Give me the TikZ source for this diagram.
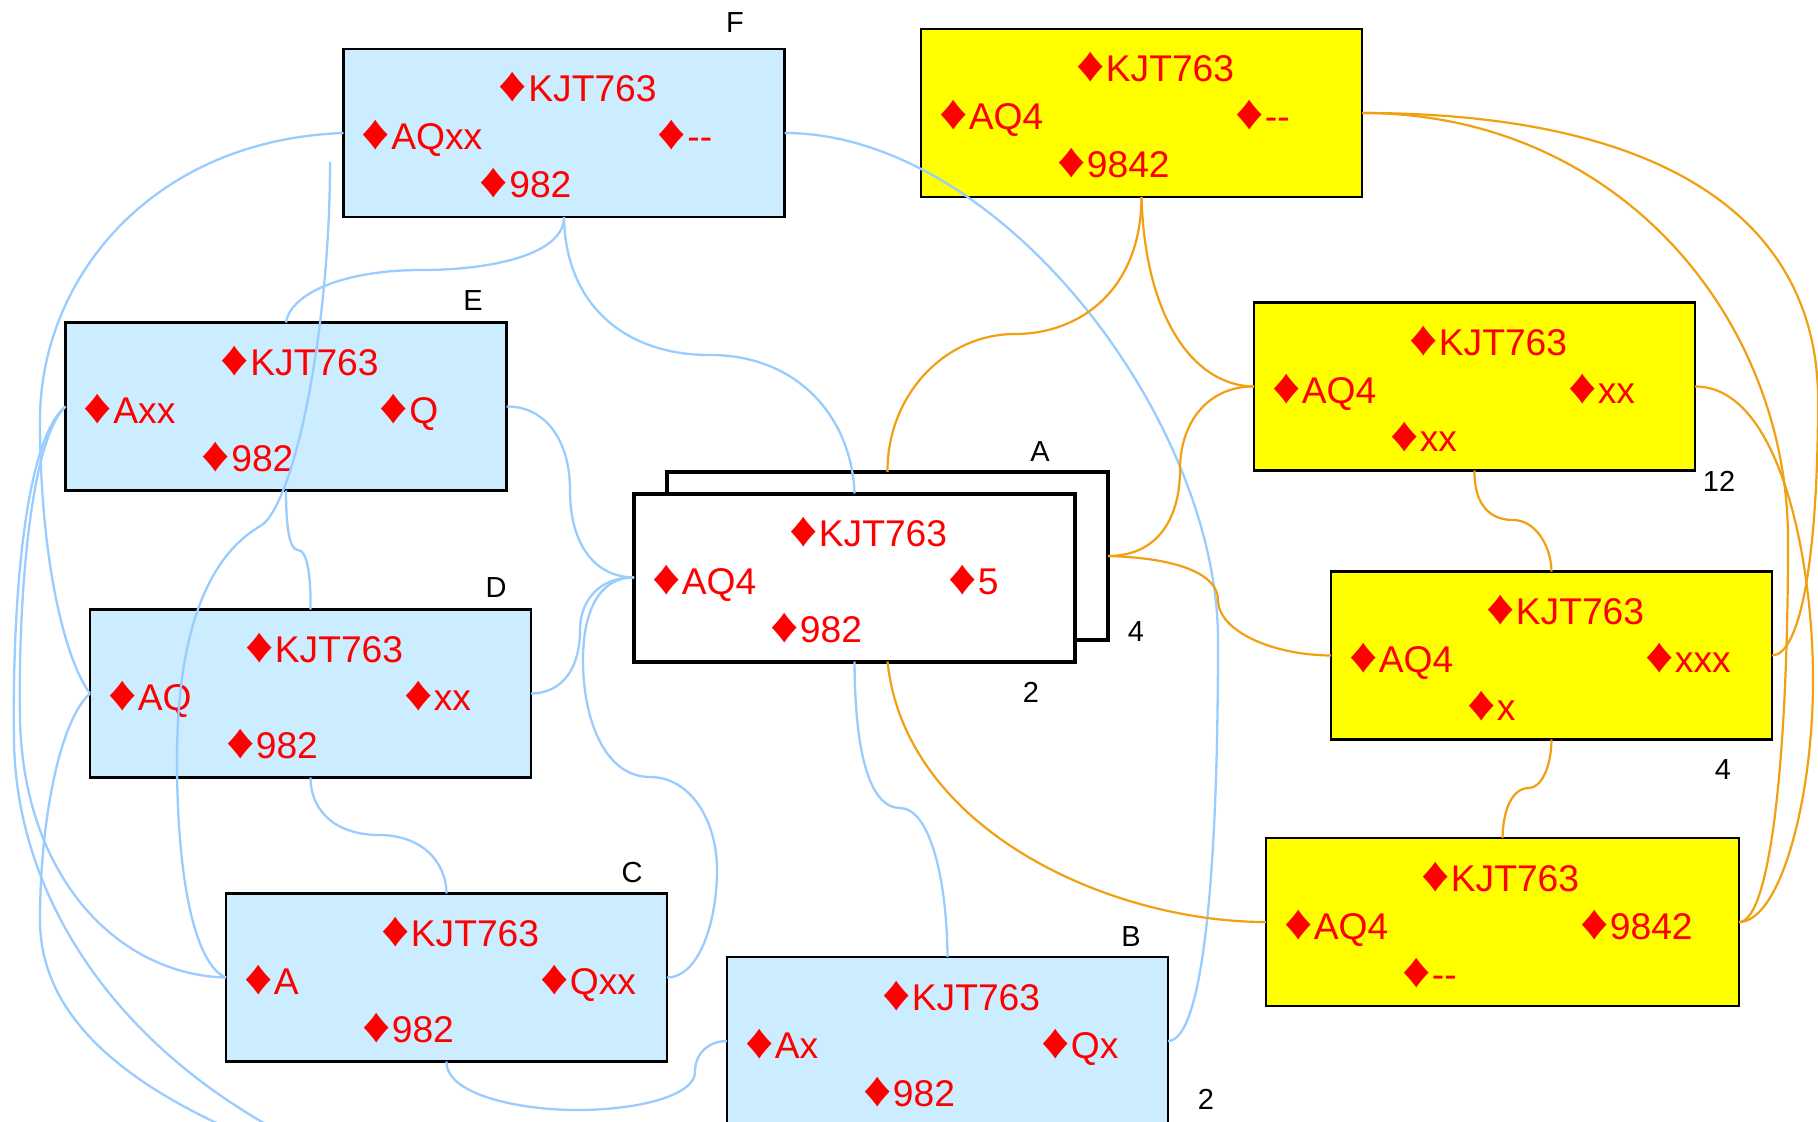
\documentclass[tikz,border=0pt]{standalone}
\usepackage{fontspec}
\setmainfont{Liberation Sans}
\usetikzlibrary{calc}
\definecolor{boxblue}{RGB}{204,236,255}
\definecolor{edgeblue}{RGB}{153,204,255}
\definecolor{edgeorange}{RGB}{240,160,16}
\definecolor{cardred}{RGB}{255,0,0}
\definecolor{handyellow}{RGB}{255,255,0}
\newcommand{\mydiam}{\scalebox{1.5}[1.32]{♦}\kern0.5pt}
\tikzset{
  handbox/.style={draw=black, line width=1.1pt, minimum width=220.5pt, minimum height=84pt, inner sep=0pt, outer sep=0pt},
  bluehand/.style={handbox, fill=boxblue},
  yellowhand/.style={handbox, fill=handyellow},
  mainhand/.style={handbox, fill=white, line width=2pt},
  cardtext/.style={anchor=base west, inner sep=0pt, text=cardred, font=\fontsize{18.6}{20}\selectfont},
  tag/.style={inner sep=0pt, font=\fontsize{14.5}{16}\selectfont, text=black},
  bluelink/.style={draw=edgeblue, line width=1.15pt},
  orangelink/.style={draw=edgeorange, line width=1.1pt},
}
\newcommand{\handtext}[5]{%
  \node[cardtext] (#1-n) at ($(#1.north west)+(155,53)$) {\mydiam#2};
  \node[cardtext] (#1-w) at ($(#1.north west)+(18,101)$) {\mydiam#3};
  \node[cardtext] (#1-e) at ($(#1.north west)+(314,101)$) {\mydiam#4};
  \node[cardtext] (#1-s) at ($(#1.north west)+(136,149)$) {\mydiam#5};
}
\begin{document}
\begin{tikzpicture}[x=0.5pt,y=-0.5pt]
\useasboundingbox (0,0) rectangle (1818,1122);
\clip (0,0) rectangle (1818,1122);
\fill[white] (0,0) rectangle (1818,1122);

% hands
\node[bluehand] (F) at (564,133) {};
\handtext{F}{KJT763}{AQxx}{-\kern0pt-}{982}
\node[yellowhand] (Y1) at (1141.5,113) {};
\handtext{Y1}{KJT763}{AQ4}{-\kern0pt-}{9842}
\node[bluehand] (E) at (286,406.5) {};
\handtext{E}{KJT763}{Axx}{Q}{982}
\node[yellowhand] (Y2) at (1474.5,386.5) {};
\handtext{Y2}{KJT763}{AQ4}{xx}{xx}
\node[bluehand] (D) at (310.5,693.5) {};
\handtext{D}{KJT763}{AQ}{xx}{982}
\node[yellowhand] (Y3) at (1551.5,655.5) {};
\handtext{Y3}{KJT763}{AQ4}{xxx}{x}
\node[bluehand] (C) at (446.5,977.5) {};
\handtext{C}{KJT763}{A}{Qxx}{982}
\node[bluehand] (B) at (947.5,1041) {};
\handtext{B}{KJT763}{Ax}{Qx}{982}
\node[yellowhand, minimum width=236.5pt] (Y4) at (1502.5,922) {};
\handtext{Y4}{KJT763}{AQ4}{9842}{-\kern0pt-}
\node[mainhand] (Ab) at (887.5,556) {};
\node[mainhand] (Af) at (854.5,577.5) {};
\handtext{Af}{KJT763}{AQ4}{5}{982}

% tags
\node[tag] (tF) at (735,23) {F};
\node[tag] (tE) at (473,301) {E};
\node[tag] (tA) at (1040,452) {A};
\node[tag] (tD) at (496,588) {D};
\node[tag] (tC) at (632,873) {C};
\node[tag] (tB) at (1131,937) {B};
\node[tag] (t12) at (1719,481) {12};
\node[tag] (tA4) at (1136,632) {4};
\node[tag] (tA2) at (1031,692) {2};
\node[tag] (tY34) at (1723,770) {4};
\node[tag] (tB2) at (1206,1099) {2};

% free ends
\coordinate (stub) at (330,162);
\coordinate (exitA) at (320,1152);
\coordinate (exitB) at (280,1150);

% blue links
\draw[bluelink] (F.south) .. controls (564,255) and (490,270) .. (422,270) .. controls (340,270) and (290,295) .. (E.north);
\draw[bluelink] (F.south) .. controls (565,300) and (620,355) .. (710,355) .. controls (800,355) and (852,420) .. (Af.north);
\draw[bluelink] (F.east) .. controls (1000,133) and (1218,420) .. (1218,640) .. controls (1218,900) and (1200,1041) .. (B.east);
\draw[bluelink] (F.west) .. controls (150,140) and (40,280) .. (40,420) .. controls (40,560) and (65,660) .. (D.west);
\draw[bluelink] (stub) .. controls (330,330) and (295,500) .. (262,525) .. controls (200,560) and (177,650) .. (177,760) .. controls (177,880) and (195,965) .. (C.west);
\draw[bluelink] (E.south) .. controls (286,530) and (290,550) .. (298,550) .. controls (308,550) and (311,580) .. (D.north);
\draw[bluelink] (E.east) .. controls (545,406) and (570,440) .. (570,490) .. controls (570,545) and (595,577) .. (Af.west);
\draw[bluelink] (E.west) .. controls (30,440) and (18,600) .. (20,720) .. controls (24,880) and (120,975) .. (C.west);
\draw[bluelink] (E.west) .. controls (25,440) and (12,600) .. (14,740) .. controls (16,900) and (120,1060) .. (exitA);
\draw[bluelink] (D.west) .. controls (60,720) and (40,820) .. (40,920) .. controls (40,1030) and (150,1100) .. (exitB);
\draw[bluelink] (D.east) .. controls (565,693) and (580,665) .. (580,630) .. controls (580,600) and (600,577) .. (Af.west);
\draw[bluelink] (D.south) .. controls (311,815) and (340,835) .. (379,835) .. controls (420,835) and (446,860) .. (C.north);
\draw[bluelink] (C.east) .. controls (700,977) and (717,920) .. (717,870) .. controls (717,820) and (690,777) .. (650,777) .. controls (605,777) and (583,720) .. (583,660) .. controls (583,610) and (600,577) .. (Af.west);
\draw[bluelink] (C.south) .. controls (446,1095) and (520,1110) .. (577,1110) .. controls (640,1110) and (695,1095) .. (695,1072) .. controls (695,1052) and (710,1041) .. (B.west);
\draw[bluelink] (Af.south) .. controls (855,770) and (875,808) .. (900,808) .. controls (930,808) and (947,880) .. (B.north);

% orange links
\draw[orangelink] (Y1.south) .. controls (1141,290) and (1080,334) .. (1015,334) .. controls (945,334) and (887,395) .. (Ab.north);
\draw[orangelink] (Y1.south) .. controls (1145,320) and (1195,386) .. (Y2.west);
\draw[orangelink] (Ab.east) .. controls (1160,556) and (1180,515) .. (1180,470) .. controls (1180,420) and (1210,386) .. (Y2.west);
\draw[orangelink] (Ab.east) .. controls (1180,558) and (1218,575) .. (1218,600) .. controls (1218,630) and (1270,655) .. (Y3.west);
\draw[orangelink] (Y2.south) .. controls (1474,505) and (1490,520) .. (1513,520) .. controls (1535,520) and (1551,545) .. (Y3.north);
\draw[orangelink] (Y3.south) .. controls (1551,770) and (1540,788) .. (1529,788) .. controls (1512,788) and (1503,810) .. (Y4.north);
\draw[orangelink] (Ab.south |- Af.south) .. controls (905,830) and (1110,922) .. (Y4.west);
\draw[orangelink] (Y1.east) .. controls (1680,113) and (1818,230) .. (1818,400) .. controls (1818,560) and (1800,655) .. (Y3.east);
\draw[orangelink] (Y1.east) .. controls (1620,113) and (1788,320) .. (1788,540) .. controls (1788,760) and (1770,922) .. (Y4.east);
\draw[orangelink] (Y2.east) .. controls (1780,386) and (1813,560) .. (1813,680) .. controls (1813,800) and (1780,922) .. (Y4.east);
\end{tikzpicture}
\end{document}
